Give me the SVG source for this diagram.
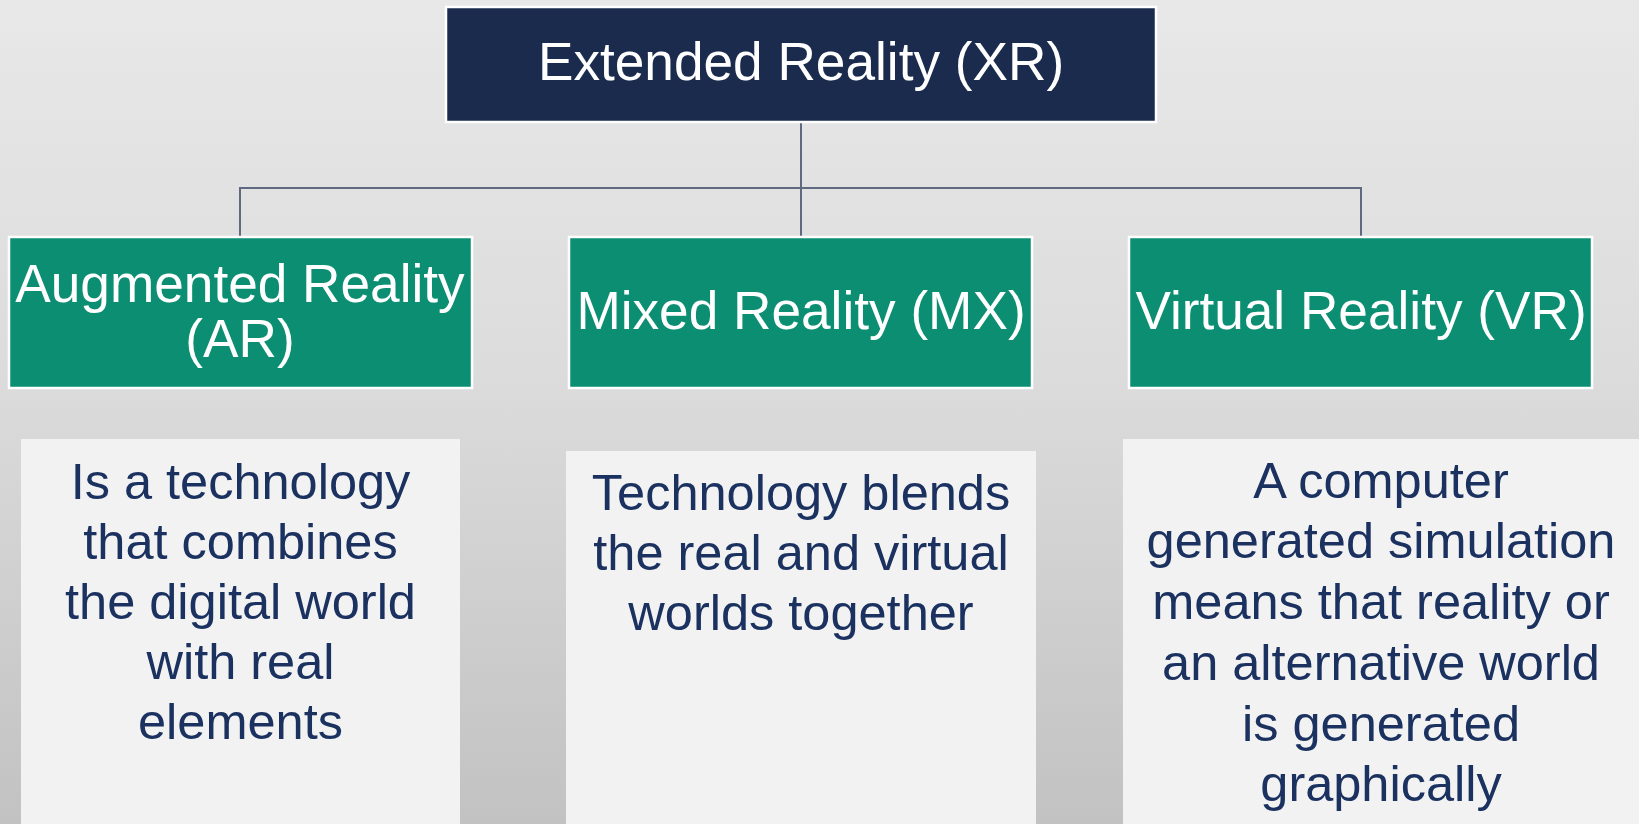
<svg xmlns="http://www.w3.org/2000/svg" width="1639" height="824" viewBox="0 0 1639 824">
<defs>
<linearGradient id="bg" x1="0" y1="0" x2="0" y2="1">
<stop offset="0" stop-color="#e8e8e8"/>
<stop offset="0.45" stop-color="#dcdcdc"/>
<stop offset="1" stop-color="#c2c2c2"/>
</linearGradient>
<style>
.top{fill:#1a2b4e;stroke:#ffffff;stroke-width:2.5}
.cat{fill:#0b8e72;stroke:#ffffff;stroke-width:2.5}
.desc{fill:#f2f2f2}
.lbl{font-family:"Liberation Sans",Arial,sans-serif;font-size:53.2px;fill:#ffffff;text-anchor:middle}
.dtx{font-family:"Liberation Sans",Arial,sans-serif;font-size:50.5px;fill:#1b3160;text-anchor:middle}
.con{stroke:#5f6a80;stroke-width:2;fill:none}
</style>
</defs>
<rect x="0" y="0" width="1639" height="824" fill="url(#bg)"/>
<g id="connectors">
<path class="con" d="M801 123 V188 M240 237 V188 H1361 V237 M801 188 V237"/>
</g>
<g id="xr">
<rect class="top" x="446" y="7" width="710" height="115"/>
<text class="lbl" x="801" y="80">Extended Reality (XR)</text>
</g>
<g id="ar">
<rect class="cat" x="9" y="237" width="463" height="151"/>
<text class="lbl" x="240" y="302">Augmented Reality</text>
<text class="lbl" x="240" y="357">(AR)</text>
</g>
<g id="mx">
<rect class="cat" x="569" y="237" width="463" height="151"/>
<text class="lbl" x="801" y="329">Mixed Reality (MX)</text>
</g>
<g id="vr">
<rect class="cat" x="1129" y="237" width="463" height="151"/>
<text class="lbl" x="1361" y="329">Virtual Reality (VR)</text>
</g>
<g id="ar-desc">
<rect class="desc" x="21" y="439" width="439" height="385"/>
<text class="dtx" x="240.5" y="499">Is a technology</text>
<text class="dtx" x="240.5" y="559">that combines</text>
<text class="dtx" x="240.5" y="619">the digital world</text>
<text class="dtx" x="240.5" y="679">with real</text>
<text class="dtx" x="240.5" y="739">elements</text>
</g>
<g id="mx-desc">
<rect class="desc" x="566" y="451" width="470" height="373"/>
<text class="dtx" x="801" y="510">Technology blends</text>
<text class="dtx" x="801" y="570">the real and virtual</text>
<text class="dtx" x="801" y="630">worlds together</text>
</g>
<g id="vr-desc">
<rect class="desc" x="1123" y="439" width="516" height="385"/>
<text class="dtx" x="1381" y="498">A computer</text>
<text class="dtx" x="1381" y="558">generated simulation</text>
<text class="dtx" x="1381" y="619">means that reality or</text>
<text class="dtx" x="1381" y="680">an alternative world</text>
<text class="dtx" x="1381" y="741">is generated</text>
<text class="dtx" x="1381" y="801">graphically</text>
</g>
</svg>
